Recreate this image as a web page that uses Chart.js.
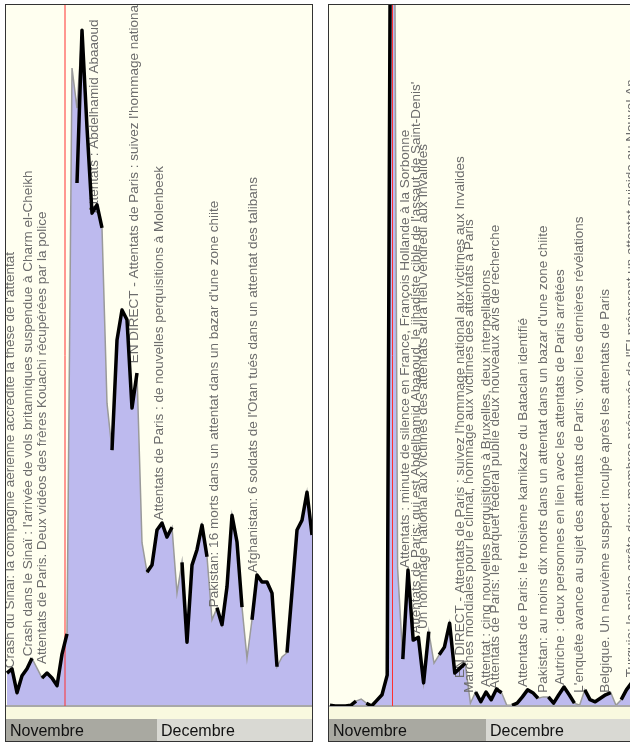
<!DOCTYPE html>
<html><head><meta charset="utf-8">
<script src="https://cdn.jsdelivr.net/npm/chart.js@4.4.1/dist/chart.umd.min.js"></script>
<style>
html,body{margin:0;padding:0;width:630px;height:742px;overflow:hidden;background:#fff;}
.panel{position:absolute;top:4px;border:1px solid #333;}
#p1{left:5px;width:306px;height:736px;}
#p2{left:328px;width:320px;height:736px;}
canvas{display:block;}
</style></head><body>
<div class="panel" id="p1"><canvas id="c1" width="306" height="736"></canvas></div>
<div class="panel" id="p2"><canvas id="c2" width="320" height="736"></canvas></div>
<script>
// ---- data ----
const months = ['Novembre', 'Decembre'];
const monthStartDay = [0, 30];

const leftArea = [4.7,5.3,1.9,4.3,5.3,6.8,5.4,
  4.0,4.7,4.0,2.9,7.4,10.3,91.0,
  85.3,96.4,82.5,70.3,71.5,68.2,43.2,
  36.5,52.2,56.5,55.1,42.5,47.5,23.3,
  19.1,20.1,25.1,26.1,24.1,25.5,16.1,
  20.5,9.1,20.1,22.3,25.8,21.3,12.3,
  14.0,11.6,17.0,27.2,23.4,14.1,6.8,
  12.3,18.7,17.7,17.7,16.1,5.6,7.0,
  7.6,16.3,25.1,26.5,30.5,24.4];
const leftLine = [4.7,5.3,1.9,4.3,5.3,6.8,null,
  4.0,4.7,4.0,2.9,7.4,10.3,null,
  74.6,96.4,82.5,70.3,71.5,68.2,null,
  36.5,52.2,56.5,55.1,42.5,47.5,null,
  19.1,20.1,25.1,26.1,24.1,25.5,null,
  20.5,9.1,20.1,22.3,25.8,21.3,null,
  14.0,11.6,17.0,27.2,23.4,14.1,null,
  12.3,18.7,17.7,17.7,16.1,5.6,null,
  7.6,16.3,25.1,26.5,30.5,24.4];
const leftEventDay = 11.6;
const leftNoteDay = [-0.6, 3.0, 5.8, 16.1, 24.2, 29.2, 40.2, 48.0];
const leftNoteLevel = [5.4, 7.1, 6.0, 70.3, 48.9, 26.5, 14.1, 19.0];
const leftNoteText = [
  "Crash du Sinaï: la compagnie aérienne accrédite la thèse de l'attentat",
  "Crash dans le Sinaï : l'arrivée de vols britanniques suspendue à Charm el-Cheikh",
  "Attentats de Paris. Deux vidéos des frères Kouachi récupérées par la police",
  "Attentats : Abdelhamid Abaaoud",
  "EN DIRECT - Attentats de Paris : suivez l'hommage national aux victimes aux Invalides",
  "Attentats de Paris : de nouvelles perquisitions à Molenbeek",
  "Pakistan: 16 morts dans un attentat dans un bazar d'une zone chiite",
  "Afghanistan: 6 soldats de l'Otan tués dans un attentat des talibans"
];

const rightArea = [0.1,0.0,0.0,0.0,0.1,0.7,1.0,
  0.4,0.0,0.8,1.6,4.4,180,19.7,
  6.7,19.4,9.4,9.8,3.3,10.6,6.1,
  7.3,8.4,11.8,4.7,5.4,6.1,0.4,
  2.0,0.6,2.0,0.9,2.4,1.9,0.1,
  0.1,0.4,1.3,2.3,1.9,1.1,1.3,
  1.3,0.4,1.6,2.7,1.6,0.4,0.1,
  2.3,0.9,0.6,1.1,1.6,1.9,0.1,
  0.9,2.3,3.3,3.7,3.0,2.3];
const rightLine = [0.1,0.0,0.0,0.0,0.1,0.7,null,
  0.4,0.0,0.8,1.6,4.4,180,null,
  6.7,19.4,9.4,9.8,3.3,10.6,null,
  7.3,8.4,11.8,4.7,5.4,6.1,null,
  2.0,0.6,2.0,0.9,2.4,1.9,null,
  0.1,0.4,1.3,2.3,1.9,1.1,null,
  1.3,0.4,1.6,2.7,1.6,0.4,null,
  2.3,0.9,0.6,1.1,1.6,1.9,null,
  0.9,2.3,3.3,3.7,3.0,2.3];
const rightEventDay = 12.02;
const rightNoteDay = [13.1, 15.2, 16.7, 23.7, 25.4, 28.8, 30.4, 35.9, 39.8, 42.9, 46.7, 51.7, 56.7];
const rightNoteLevel = [19.7, 10.3, 11.0, 4.0, 1.9, 2.7, 2.4, 2.7, 1.9, 3.0, 1.9, 1.9, 4.1];
const rightNoteText = [
  "Attentats : minute de silence en France, François Hollande à la Sorbonne",
  "Attentats de Paris: qui est Abdelhamid Abaaoud, le jihadiste cible de l'assaut de Saint-Denis'",
  "Un hommage national aux victimes des attentats aura lieu vendredi aux Invalides",
  "EN DIRECT - Attentats de Paris : suivez l'hommage national aux victimes aux Invalides",
  "Marches mondiales pour le climat, hommage aux victimes des attentats à Paris",
  "Attentat : cinq nouvelles perquisitions à Bruxelles, deux interpellations",
  "Attentats de Paris: le parquet fédéral publie deux nouveaux avis de recherche",
  "Attentats de Paris: le troisième kamikaze du Bataclan identifié",
  "Pakistan: au moins dix morts dans un attentat dans un bazar d'une zone chiite",
  "Autriche : deux personnes en lien avec les attentats de Paris arrêtées",
  "L'enquête avance au sujet des attentats de Paris: voici les dernières révélations",
  "Belgique. Un neuvième suspect inculpé après les attentats de Paris",
  "Turquie: la police arrête deux membres présumés de l'EI préparant un attentat suicide au Nouvel An"
];

// ---- styling ----
const BG = '#fffff0', STRIP = '#f9f9df', FILL = '#bdbaee', EDGE = '#9a9a9a';
const MONTH_BG = ['#a9a9a1', '#d9d9d3'];
const FONT = '"Liberation Sans", Arial, sans-serif';

const decor = {
  id: 'decor',
  beforeDraw(chart, args, o) {
    const {ctx, chartArea: ca, scales: {x}} = chart;
    const W = chart.width, H = chart.height;
    ctx.save();
    ctx.fillStyle = BG; ctx.fillRect(0, 0, W, ca.bottom);
    ctx.fillStyle = STRIP; ctx.fillRect(0, ca.bottom, W, H - ca.bottom);
    const bandTop = H - 22;
    for (let m = 0; m < months.length; m++) {
      const x0 = m === 0 ? 0 : Math.round(x.getPixelForValue(monthStartDay[m]));
      const x1 = m + 1 < months.length ? Math.round(x.getPixelForValue(monthStartDay[m + 1])) : W;
      ctx.fillStyle = MONTH_BG[m];
      ctx.fillRect(x0, bandTop, x1 - x0, H - bandTop);
      ctx.fillStyle = '#111';
      ctx.font = '16px ' + FONT;
      ctx.textBaseline = 'alphabetic';
      ctx.fillText(months[m], x0 + 4, H - 5);
    }
    ctx.restore();
  },
  beforeDatasetDraw(chart, args, o) {
    if (args.index !== 0) return;
    const {ctx, chartArea: ca, scales: {x, y}} = chart;
    ctx.save();
    // baseline
    ctx.strokeStyle = '#a8a8a8'; ctx.lineWidth = 2;
    ctx.beginPath(); ctx.moveTo(ca.left, ca.bottom); ctx.lineTo(ca.right, ca.bottom); ctx.stroke();
    // event line
    const ex = x.getPixelForValue(o.eventDay);
    ctx.strokeStyle = '#ff3030'; ctx.lineWidth = 1;
    ctx.beginPath(); ctx.moveTo(ex, ca.top); ctx.lineTo(ex, ca.bottom); ctx.stroke();
    // notes
    ctx.beginPath(); ctx.rect(ca.left, ca.top, ca.right - ca.left, ca.bottom - ca.top); ctx.clip();
    ctx.fillStyle = '#6c6c6c';
    ctx.font = '13.5px ' + FONT;
    ctx.textAlign = 'left'; ctx.textBaseline = 'top';
    for (let i = 0; i < o.noteText.length; i++) {
      const px = x.getPixelForValue(o.noteDay[i]);
      const py = y.getPixelForValue(o.noteLevel[i]);
      ctx.save();
      ctx.translate(px, py);
      ctx.rotate(-Math.PI / 2);
      ctx.fillText(o.noteText[i], 0, 0);
      ctx.restore();
    }
    ctx.restore();
  }
};

function makePanel(id, area, line, xMin, xMax, eventDay, noteDay, noteLevel, noteText) {
  const pts = arr => arr.map((v, i) => ({x: i, y: v}));
  return new Chart(document.getElementById(id), {
    type: 'line',
    data: {
      datasets: [
        {data: pts(line), order: 0, borderColor: '#000', borderWidth: 3.5, fill: false,
         spanGaps: false, pointRadius: 0, tension: 0, borderJoinStyle: 'round'},
        {data: pts(area), order: 1, borderColor: EDGE, borderWidth: 1.5, fill: 'origin',
         backgroundColor: FILL, pointRadius: 0, tension: 0}
      ]
    },
    options: {
      responsive: false, animation: false, events: [],
      layout: {padding: {left: 0, right: 0, top: 0, bottom: 35}},
      scales: {
        x: {type: 'linear', min: xMin, max: xMax, display: false},
        y: {type: 'linear', min: 0, max: 100, display: false}
      },
      plugins: {
        legend: {display: false}, tooltip: {enabled: false},
        decor: {eventDay, noteDay, noteLevel, noteText}
      }
    },
    plugins: [decor]
  });
}

makePanel('c1', leftArea, leftLine, -0.2, 61.0, leftEventDay, leftNoteDay, leftNoteLevel, leftNoteText);
makePanel('c2', rightArea, rightLine, -0.1923, 61.346, rightEventDay, rightNoteDay, rightNoteLevel, rightNoteText);
</script>
</body></html>
